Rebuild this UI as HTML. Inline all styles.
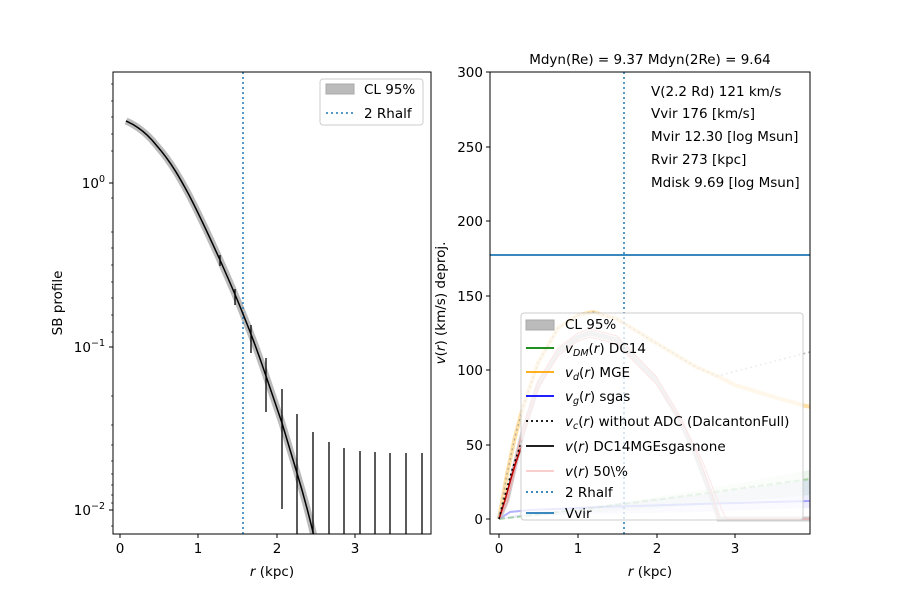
<!DOCTYPE html>
<html><head><meta charset="utf-8"><style>body{margin:0;background:#fff}svg{display:block}text{font-family:"DejaVu Sans","Liberation Sans",sans-serif;font-size:13.5px;fill:#000}</style></head><body>
<svg width="900" height="600" xmlns="http://www.w3.org/2000/svg">
<defs>
<clipPath id="cl"><rect x="113" y="72" width="318" height="462"/></clipPath>
<clipPath id="cr"><rect x="490" y="72" width="320" height="462"/></clipPath>
</defs>
<!-- LEFT PANEL -->
<g clip-path="url(#cl)">
<path d="M126,121 C140,127 150,137 157,146 C172,163 182,182 189,195 C200,216 210,238 220,260 C228,278 236,296 243,314 C252,336 260,358 267,379 C272,394 277,408 282,423 C287,440 292,456 297,473 C303,493 309,514 316,545" fill="none" stroke="#bbb" stroke-width="7" stroke-linejoin="round"/>
<line x1="243" y1="72" x2="243" y2="534" stroke="#1f77b4" stroke-width="1.5" stroke-dasharray="2,3"/>
<path d="M126,121 C140,127 150,137 157,146 C172,163 182,182 189,195 C200,216 210,238 220,260 C228,278 236,296 243,314 C252,336 260,358 267,379 C272,394 277,408 282,423 C287,440 292,456 297,473 C303,493 309,514 316,545" fill="none" stroke="#000" stroke-width="1.5"/>
<g stroke="#000" stroke-width="1.3">
<line x1="220" y1="255" x2="220" y2="266"/><line x1="235" y1="289" x2="235" y2="305"/><line x1="251" y1="325" x2="251" y2="353"/><line x1="266" y1="358" x2="266" y2="412"/><line x1="282" y1="389" x2="282" y2="509"/><line x1="297" y1="414" x2="297" y2="534"/><line x1="313" y1="432" x2="313" y2="534"/><line x1="329" y1="442" x2="329" y2="534"/><line x1="344" y1="448" x2="344" y2="534"/><line x1="360" y1="451" x2="360" y2="534"/><line x1="375" y1="452" x2="375" y2="534"/><line x1="390" y1="453" x2="390" y2="534"/><line x1="406" y1="453" x2="406" y2="534"/><line x1="422" y1="453" x2="422" y2="534"/>
</g>
</g>
<rect x="113" y="72" width="318" height="462" fill="none" stroke="#000" stroke-width="1"/>
<g stroke="#000" stroke-width="1">
<line x1="120" y1="534" x2="120" y2="538"/><line x1="198" y1="534" x2="198" y2="538"/><line x1="277" y1="534" x2="277" y2="538"/><line x1="355" y1="534" x2="355" y2="538"/>
<line x1="109" y1="183" x2="113" y2="183"/><line x1="109" y1="347" x2="113" y2="347"/><line x1="109" y1="510" x2="113" y2="510"/>
</g>
<g stroke="#000" stroke-width="0.7">
<line x1="111" y1="84" x2="113" y2="84"/><line x1="111" y1="101" x2="113" y2="101"/><line x1="111" y1="117" x2="113" y2="117"/><line x1="111" y1="134" x2="113" y2="134"/><line x1="111" y1="151" x2="113" y2="151"/>
<line x1="111" y1="198" x2="113" y2="198"/><line x1="111" y1="232" x2="113" y2="232"/><line x1="111" y1="248" x2="113" y2="248"/><line x1="111" y1="265" x2="113" y2="265"/><line x1="111" y1="282" x2="113" y2="282"/><line x1="111" y1="298" x2="113" y2="298"/><line x1="111" y1="315" x2="113" y2="315"/><line x1="111" y1="332" x2="113" y2="332"/>
<line x1="111" y1="396" x2="113" y2="396"/><line x1="111" y1="425" x2="113" y2="425"/><line x1="111" y1="445" x2="113" y2="445"/><line x1="111" y1="461" x2="113" y2="461"/><line x1="111" y1="474" x2="113" y2="474"/><line x1="111" y1="485" x2="113" y2="485"/><line x1="111" y1="495" x2="113" y2="495"/><line x1="111" y1="503" x2="113" y2="503"/><line x1="111" y1="526" x2="113" y2="526"/>
</g>
<text x="120" y="553" text-anchor="middle">0</text><text x="198" y="553" text-anchor="middle">1</text><text x="277" y="553" text-anchor="middle">2</text><text x="355" y="553" text-anchor="middle">3</text>
<text x="105" y="188" text-anchor="end">10<tspan font-size="9.5" dy="-6">0</tspan></text>
<text x="105" y="352" text-anchor="end">10<tspan font-size="9.5" dy="-6">−1</tspan></text>
<text x="105" y="515" text-anchor="end">10<tspan font-size="9.5" dy="-6">−2</tspan></text>
<text x="272" y="576" text-anchor="middle"><tspan font-style="italic">r</tspan> (kpc)</text>
<text transform="translate(62,303) rotate(-90)" text-anchor="middle">SB profile</text>
<rect x="320" y="79" width="103" height="46" rx="3" fill="#fff" fill-opacity="0.8" stroke="#ccc"/>
<rect x="326" y="84" width="28" height="10" fill="#bbb" stroke="#aaa"/>
<text x="364" y="94">CL 95%</text>
<line x1="326" y1="113" x2="354" y2="113" stroke="#1f77b4" stroke-width="1.5" stroke-dasharray="2,3"/>
<text x="364" y="118">2 Rhalf</text>

<!-- RIGHT PANEL -->
<text x="650" y="64" text-anchor="middle">Mdyn(Re) = 9.37  Mdyn(2Re) = 9.64</text>
<g clip-path="url(#cr)">
<polygon points="499,519 530,512 600,505 700,495 810,480 810,508 700,512 600,514 530,516" fill="#00f" fill-opacity="0.07"/>
<polygon points="499,519 600,506 700,490 810,470 810,495 700,505 600,512 499,519" fill="green" fill-opacity="0.08"/>
<polyline points="499,519 510,512 530,510 600,507 700,504 810,501" fill="none" stroke="#00f" stroke-opacity="0.3" stroke-width="2"/>
<polyline points="499,519 600,507 700,494 810,479" fill="none" stroke="green" stroke-opacity="0.3" stroke-width="2" stroke-dasharray="6,3"/>
<polyline points="499,519 507,474 515,437 523,407 538,363 558,328 578,315 593,312 617,319 656,343 696,367 717,376 735,385 774,397 806,406 812,407" fill="none" stroke="orange" stroke-opacity="0.35" stroke-width="4"/>
<polyline points="499,519 507,474 515,437 523,407 538,363 558,328 578,315 593,312 617,319 656,343 696,367 717,376 760,365 810,352" fill="none" stroke="#999" stroke-opacity="0.7" stroke-width="1.5" stroke-dasharray="2,3"/>
<polyline points="499,519 507,500 515,465 523,432 538,385 558,352 578,337 590,333 617,340 656,380 680,420 696,455 711,495 719,519 810,519" fill="none" stroke="#bbb" stroke-width="5" stroke-opacity="0.7"/>
<polyline points="499,519 507,497 515,461 523,428 538,381 558,348 578,333 590,329 617,336 656,376 680,416 696,451 711,491 719,518" fill="none" stroke="#f4a0a0" stroke-width="1"/>
<polyline points="499,519 507,503 515,469 523,436 538,389 558,356 578,341 590,337 617,344 656,384 685,428 702,460 716,496 726,519 810,519" fill="none" stroke="#f4a0a0" stroke-width="1"/>
<polyline points="499,519 505,500 510,482 515,465 522,445" fill="none" stroke="#b00" stroke-width="1.5"/>
<polyline points="499,519 505,495 512,470 522,440" fill="none" stroke="#000" stroke-width="1.5" stroke-dasharray="2,3"/>
<line x1="624" y1="72" x2="624" y2="534" stroke="#1f77b4" stroke-width="1.5" stroke-dasharray="2,3"/>
<line x1="490" y1="255" x2="810" y2="255" stroke="#1f77b4" stroke-width="1.8"/>
</g>
<rect x="490" y="72" width="320" height="462" fill="none" stroke="#000" stroke-width="1"/>
<g stroke="#000" stroke-width="1">
<line x1="499" y1="534" x2="499" y2="538"/><line x1="578" y1="534" x2="578" y2="538"/><line x1="657" y1="534" x2="657" y2="538"/><line x1="735" y1="534" x2="735" y2="538"/>
<line x1="486" y1="519" x2="490" y2="519"/><line x1="486" y1="445" x2="490" y2="445"/><line x1="486" y1="370" x2="490" y2="370"/><line x1="486" y1="296" x2="490" y2="296"/><line x1="486" y1="221" x2="490" y2="221"/><line x1="486" y1="147" x2="490" y2="147"/><line x1="486" y1="72" x2="490" y2="72"/>
</g>
<text x="499" y="553" text-anchor="middle">0</text><text x="578" y="553" text-anchor="middle">1</text><text x="657" y="553" text-anchor="middle">2</text><text x="735" y="553" text-anchor="middle">3</text>
<g text-anchor="end"><text x="483" y="524">0</text><text x="483" y="450">50</text><text x="483" y="375">100</text><text x="483" y="301">150</text><text x="483" y="226">200</text><text x="483" y="152">250</text><text x="483" y="77">300</text></g>
<text x="650" y="576" text-anchor="middle"><tspan font-style="italic">r</tspan> (kpc)</text>
<text transform="translate(445,303) rotate(-90)" text-anchor="middle"><tspan font-style="italic">v</tspan>(<tspan font-style="italic">r</tspan>) (km/s) deproj.</text>
<text x="651" y="96">V(2.2 Rd) 121 km/s</text>
<text x="651" y="118">Vvir 176 [km/s]</text>
<text x="651" y="141">Mvir 12.30 [log Msun]</text>
<text x="651" y="164">Rvir 273 [kpc]</text>
<text x="651" y="187">Mdisk 9.69 [log Msun]</text>
<rect x="521" y="313" width="282" height="207" rx="3" fill="#fff" fill-opacity="0.75" stroke="#ccc"/>
<rect x="526" y="320" width="28" height="10" fill="#bbb" stroke="#aaa"/>
<text x="565" y="329">CL 95%</text>
<line x1="526" y1="348" x2="554" y2="348" stroke="green" stroke-width="1.8"/>
<text x="565" y="353"><tspan font-style="italic">v<tspan font-size="9.5" dy="3">DM</tspan></tspan><tspan dy="-3">(</tspan><tspan font-style="italic">r</tspan>) DC14</text>
<line x1="526" y1="372" x2="554" y2="372" stroke="orange" stroke-width="1.8"/>
<text x="565" y="377"><tspan font-style="italic">v<tspan font-size="9.5" dy="3">d</tspan></tspan><tspan dy="-3">(</tspan><tspan font-style="italic">r</tspan>) MGE</text>
<line x1="526" y1="396" x2="554" y2="396" stroke="#00f" stroke-width="1.8"/>
<text x="565" y="401"><tspan font-style="italic">v<tspan font-size="9.5" dy="3">g</tspan></tspan><tspan dy="-3">(</tspan><tspan font-style="italic">r</tspan>) sgas</text>
<line x1="526" y1="421" x2="554" y2="421" stroke="#000" stroke-width="1.8" stroke-dasharray="2,3"/>
<text x="565" y="426"><tspan font-style="italic">v<tspan font-size="9.5" dy="3">c</tspan></tspan><tspan dy="-3">(</tspan><tspan font-style="italic">r</tspan>) without ADC (DalcantonFull)</text>
<line x1="526" y1="446" x2="554" y2="446" stroke="#000" stroke-width="1.8"/>
<text x="565" y="451"><tspan font-style="italic">v</tspan>(<tspan font-style="italic">r</tspan>) DC14MGEsgasnone</text>
<line x1="526" y1="471" x2="554" y2="471" stroke="#f4b0b0" stroke-width="1.2"/>
<text x="565" y="476"><tspan font-style="italic">v</tspan>(<tspan font-style="italic">r</tspan>) 50\%</text>
<line x1="526" y1="492" x2="554" y2="492" stroke="#1f77b4" stroke-width="1.8" stroke-dasharray="2,3"/>
<text x="565" y="497">2 Rhalf</text>
<line x1="526" y1="513" x2="554" y2="513" stroke="#1f77b4" stroke-width="1.8"/>
<text x="565" y="518">Vvir</text>
</svg>
</body></html>
